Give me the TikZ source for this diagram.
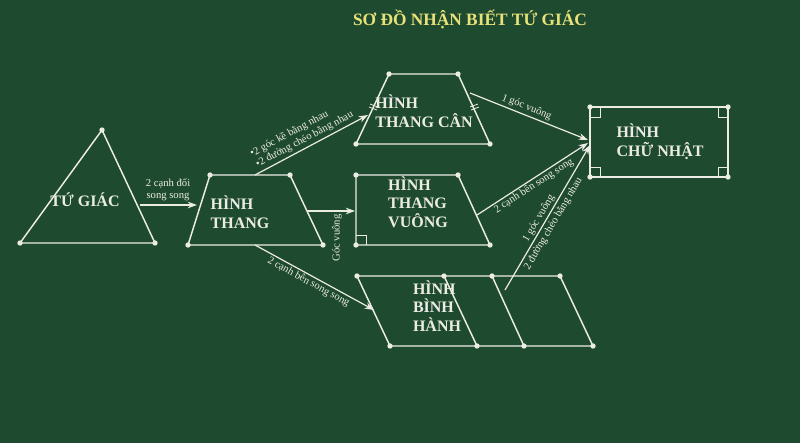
\documentclass[tikz,border=0pt]{standalone}
\usepackage{fontspec}
\setmainfont{Liberation Serif}
\usetikzlibrary{arrows.meta}
\definecolor{board}{RGB}{30,74,48}
\definecolor{chalk}{RGB}{236,236,228}
\definecolor{titlecol}{RGB}{232,226,120}
\tikzset{
  fig/.style={draw=chalk,line width=1.1pt},
  dot/.style={circle,fill=chalk,inner sep=0pt,minimum size=4pt},
  arr/.style={draw=chalk,line width=0.9pt,-{Stealth[length=7pt,width=5pt]}},
  lbl/.style={text=chalk,font=\fontsize{8}{9}\selectfont,inner sep=1.5pt},
  figname/.style={text=chalk,font=\bfseries\fontsize{12}{14}\selectfont,align=left,inner sep=0pt}
}
\begin{document}
\begin{tikzpicture}[x=0.75pt,y=0.75pt,yscale=-1]
\fill[board] (0,0) rectangle (800,443);
\useasboundingbox (0,0) rectangle (800,443);
\node[text=titlecol,font=\bfseries\fontsize{13}{15}\selectfont] (title) at (470,19) {SƠ ĐỒ NHẬN BIẾT TỨ GIÁC};
% tu giac
\draw[fig] (20,243) -- (102,130) -- (155,243) -- cycle;
\foreach \p in {(20,243),(102,130),(155,243)} \node[dot] at \p {};
\node[figname] (tg) at (85,200) {TỨ GIÁC};
% hinh thang
\draw[fig] (210,175) -- (290,175) -- (323,245) -- (188,245) -- cycle;
\foreach \p in {(210,175),(290,175),(323,245),(188,245)} \node[dot] at \p {};
\node[figname] (ht) at (240,212) {HÌNH\\THANG};
% thang can
\draw[fig] (389,74) -- (458,74) -- (490,144) -- (356,144) -- cycle;
\foreach \p in {(389,74),(458,74),(490,144),(356,144)} \node[dot] at \p {};
\draw[fig,line width=0.6pt] (369,107) -- (377,110) (370,104) -- (378,107);
\draw[fig,line width=0.6pt] (470,107) -- (478,104) (471,110) -- (479,107);
\node[figname] (tc) at (424,111) {HÌNH\\THANG CÂN};
% thang vuong
\draw[fig] (356,175) -- (458,175) -- (490,245) -- (356,245) -- cycle;
\foreach \p in {(356,175),(458,175),(490,245),(356,245)} \node[dot] at \p {};
\draw[fig,line width=0.6pt] (356,235) -- (366,235) -- (366,245);
\node[figname] (tv) at (418,202) {HÌNH\\THANG\\VUÔNG};
% binh hanh
\draw[fig] (357,276) -- (560,276) -- (593,346) -- (390,346) -- cycle;
\draw[fig] (444,276) -- (477,346) (492,276) -- (524,346);
\foreach \p in {(357,276),(444,276),(492,276),(560,276),(390,346),(477,346),(524,346),(593,346)} \node[dot] at \p {};
\node[figname] (bh) at (437,306) {HÌNH\\BÌNH\\HÀNH};
% chu nhat
\draw[fig] (590,107) rectangle (728,177);
\foreach \p in {(590,107),(728,107),(728,177),(590,177)} \node[dot] at \p {};
\draw[fig,line width=0.6pt] (590,117) -- (600,117) -- (600,107) (718,107) -- (718,117) -- (728,117)
  (590,167) -- (600,167) -- (600,177) (718,177) -- (718,167) -- (728,167);
\node[figname] (cn) at (660,142) {HÌNH\\CHỮ NHẬT};
% connectors
\coordinate (a1) at (140,205); \coordinate (a2) at (197,205);
\draw[arr] (a1) -- (a2);
\node[lbl,align=center] at (168,190) {2 cạnh đối\\song song};
\coordinate (b1) at (255,175); \coordinate (b2) at (368,115);
\draw[arr] (b1) -- (b2);
\node[lbl,rotate=28,anchor=south,align=left] at (308,146) {•2 góc kề bằng nhau\\•2 đường chéo bằng nhau};
\coordinate (c1) at (307,211); \coordinate (c2) at (355,211);
\draw[arr] (c1) -- (c2);
\node[lbl,rotate=90] at (337,238) {Góc vuông};
\coordinate (d1) at (255,245); \coordinate (d2) at (374,310);
\draw[arr] (d1) -- (d2);
\node[lbl,rotate=-28.6,anchor=north] at (312,276) {2 cạnh bên song song};
\coordinate (e1) at (470,93); \coordinate (r1) at (588,140);
\draw[arr] (e1) -- (r1);
\node[lbl,rotate=-21.7,anchor=south] at (524,114) {1 góc vuông};
\coordinate (f1) at (477,215); \coordinate (r2) at (588,143);
\draw[arr] (f1) -- (r2);
\node[lbl,rotate=33,anchor=north] at (530,180) {2 cạnh bên song song};
\coordinate (g1) at (505,290); \coordinate (r3) at (590,145);
\draw[arr] (g1) -- (r3);
\node[lbl,rotate=59.6,anchor=south] at (545,222) {1 góc vuông};
\node[lbl,rotate=59.6,anchor=north] at (547,220) {2 đường chéo bằng nhau};
\end{tikzpicture}
\end{document}
